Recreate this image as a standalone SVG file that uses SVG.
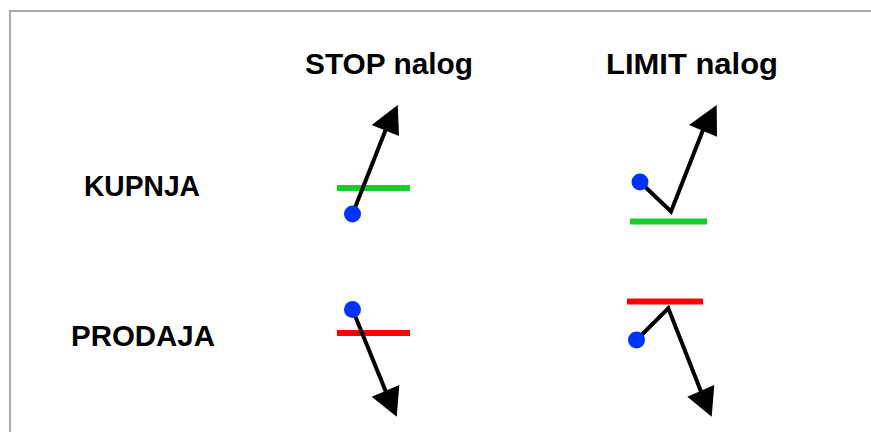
<svg xmlns="http://www.w3.org/2000/svg" width="871" height="432" viewBox="0 0 871 432">
<style>
.t{font-family:"Liberation Sans",Arial,sans-serif;font-weight:bold;font-size:30px;fill:#000}
.lvl{stroke-width:6;fill:none}
.buy{stroke:#19cc2e}
.sell{stroke:#ff0000}
.path{stroke:#000;stroke-width:4;fill:none;stroke-linejoin:miter}
.dot{fill:#0033ff}
.head{fill:#000}
</style>
<rect width="871" height="432" fill="#fff"/>
<path d="M10 432 V11 H871" fill="none" stroke="#a8a8a8" stroke-width="2"/>
<g id="labels">
<text class="t" x="305" y="74" textLength="168" lengthAdjust="spacingAndGlyphs">STOP nalog</text>
<text class="t" x="606" y="74" textLength="172" lengthAdjust="spacingAndGlyphs">LIMIT nalog</text>
<text class="t" x="84" y="196" textLength="116" lengthAdjust="spacingAndGlyphs">KUPNJA</text>
<text class="t" x="71" y="346" textLength="144" lengthAdjust="spacingAndGlyphs">PRODAJA</text>
</g>
<g id="levels">
<line class="lvl buy" x1="337" y1="188" x2="410" y2="188"/>
<line class="lvl buy" x1="630" y1="221.5" x2="707" y2="221.5"/>
<line class="lvl sell" x1="337" y1="333" x2="410" y2="333"/>
<line class="lvl sell" x1="627" y1="301.5" x2="703" y2="301.5"/>
</g>
<g id="connectors">
<polyline class="path" points="352.5,214 386,129"/>
<polygon class="head" points="397.7,105 371.7,125 399,136"/>
<polyline class="path" points="640,182 671,211.5 703,130"/>
<polygon class="head" points="716.7,105 689,125 717,136.7"/>
<polyline class="path" points="352.5,309.5 386,392"/>
<polygon class="head" points="396.7,416.7 371.7,396.7 399.3,385"/>
<polyline class="path" points="636.5,340 668.3,308.3 701,391.5"/>
<polygon class="head" points="711.7,416.7 687.3,396.7 714.3,385"/>
</g>
<g id="stop-kupnja"><circle class="dot" cx="352.5" cy="214" r="8.5"/></g>
<g id="limit-kupnja"><circle class="dot" cx="640" cy="182" r="8.5"/></g>
<g id="stop-prodaja"><circle class="dot" cx="352.5" cy="309.5" r="8.5"/></g>
<g id="limit-prodaja"><circle class="dot" cx="636.5" cy="340" r="8.5"/></g>
</svg>
